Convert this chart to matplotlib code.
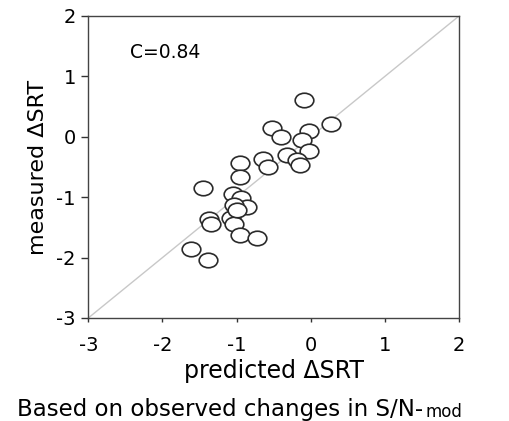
import matplotlib
matplotlib.use("Agg")
import matplotlib.pyplot as plt
from matplotlib.path import Path
from matplotlib.transforms import Affine2D

predicted = [-0.09, 0.28, -0.52, -0.40, -0.02, -0.12, -0.03, -0.32, -0.19, -0.14,
             -0.64, -0.57, -0.96, -0.96, -1.45, -1.05, -0.94, -0.86, -1.04, -1.37,
             -1.35, -1.07, -1.04, -0.96, -0.73, -1.62, -1.39, -1.00]
measured = [0.61, 0.21, 0.15, -0.01, 0.10, -0.06, -0.23, -0.30, -0.38, -0.47,
            -0.37, -0.50, -0.44, -0.66, -0.85, -0.94, -1.02, -1.16, -1.13, -1.36,
            -1.44, -1.35, -1.44, -1.63, -1.67, -1.86, -2.04, -1.22]
axis_range = [-3, 2]
ticks = [-3, -2, -1, 0, 1, 2]
annotation = "C=0.84"
xlabel = "predicted ΔSRT"
ylabel = "measured ΔSRT"
caption_main = "Based on observed changes in S/N-"
caption_sub = "mod"

plt.rcParams['font.family'] = ['DejaVu Sans']
plt.rcParams['axes.unicode_minus'] = False

fig = plt.figure(figsize=(5.09, 4.21), dpi=100)
ax = fig.add_axes([0.1735, 0.2447, 0.7283, 0.7173])

ax.plot(axis_range, axis_range, color='#c8c8c8', lw=1.0, zorder=1)

ellipse = Path.unit_circle().transformed(Affine2D().scale(1.0, 0.78))
ax.scatter(predicted, measured, marker=ellipse, s=180, facecolors='white',
           edgecolors='#2a2a2a', linewidths=1.2, zorder=3)

ax.set_xlim(axis_range)
ax.set_ylim(axis_range)
ax.set_xticks(ticks)
ax.set_yticks(ticks)
ax.tick_params(axis='both', direction='out', width=1, colors='#333333',
               labelsize=14, labelcolor='black')
ax.tick_params(axis='x', pad=10, length=3)
ax.tick_params(axis='y', pad=4, length=5)
for s in ax.spines.values():
    s.set_color('#444444')
    s.set_linewidth(1.0)

ax.text(-2.44, 1.39, annotation, fontsize=13.5, va='center', ha='left')

ax.set_xlabel(xlabel, fontsize=17, labelpad=3)
ax.set_ylabel(ylabel, fontsize=16, labelpad=6)

t = fig.text(17 / 509, 1 - 416 / 421, caption_main, fontsize=16.5, ha='left', va='baseline')
ax.annotate(caption_sub, xy=(1, 0), xycoords=t, xytext=(2, 0), textcoords='offset points',
            fontsize=12, ha='left', va='bottom', annotation_clip=False)

fig.savefig("out.png", dpi=100)
